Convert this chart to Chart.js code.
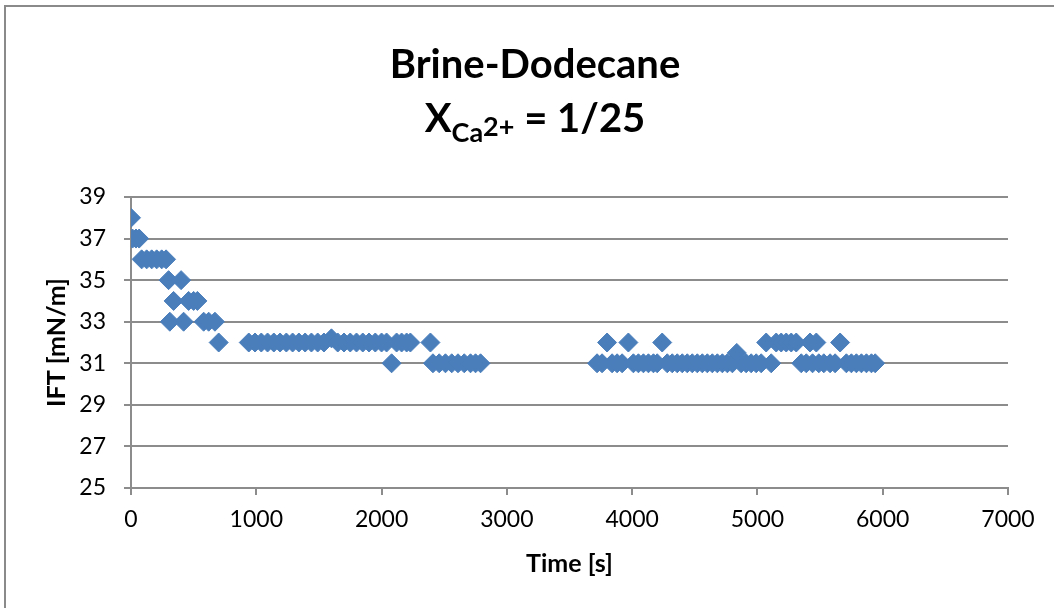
<!DOCTYPE html>
<html>
<head>
<meta charset="utf-8">
<script src="https://cdn.jsdelivr.net/npm/chart.js@4.4.1/dist/chart.umd.min.js"></script>
<style>
  body { margin: 0; background: #fff; }
  #wrap { position: relative; width: 1054px; height: 608px; overflow: hidden; }
  #frame { position: absolute; left: 4px; top: 5px; width: 1100px; height: 700px;
           border-top: 2px solid #8a8a8a; border-left: 2px solid #8a8a8a; }
  #title { position: absolute; left: 0; width: 1070px; top: 36px; text-align: center;
           font-family: Lato, sans-serif; font-weight: bold; font-size: 40px; color: #000; line-height: 54px; }
  #title sub { font-size: 27px; vertical-align: -10px; }
  #title sup { font-size: 27px; vertical-align: 6px; }
  canvas { position: absolute; left: 0; top: 0; }
</style>
</head>
<body>
<div id="wrap">
  <div id="frame"></div>
  <canvas id="iftChart" width="1054" height="608"></canvas>
  <div id="title">Brine-Dodecane<br>X<sub>Ca<sup>2+</sup></sub> = 1/25</div>
</div>
<script>
// Time [s] and IFT [mN/m]
const timeS = [
    0, 12, 40, 65,
    85, 125, 165, 205, 245, 280,
    300, 400, 340, 460, 500, 530,
    310, 420, 580, 620, 670, 700,
    940, 990, 1040, 1090, 1140, 1190, 1240, 1290, 1340, 1390, 1440, 1490, 1540, 1600,
    1650, 1700, 1750, 1800, 1850, 1900, 1950, 2000, 2040, 2080, 2120, 2160, 2200, 2230, 2390,
    2410, 2460, 2510, 2560, 2610, 2660, 2710, 2750, 2790,
    3720, 3760, 3800, 3840, 3880, 3920, 3970, 4010, 4050, 4090, 4130, 4170, 4200, 4240,
    4280, 4320, 4360, 4400, 4440, 4480, 4520, 4560, 4600, 4640, 4680, 4720, 4760, 4800,
    4835, 4870, 4910, 4950, 4990, 5030, 5070, 5110,
    5150, 5190, 5230, 5270, 5310, 5420, 5470,
    5350, 5390, 5440, 5490, 5530, 5580, 5620, 5660, 5710, 5750, 5790, 5830, 5870, 5910, 5940
];
const iftMN = [
    38, 37, 37, 37,
    36, 36, 36, 36, 36, 36,
    35, 35, 34, 34, 34, 34,
    33, 33, 33, 33, 33, 32,
    32, 32, 32, 32, 32, 32, 32, 32, 32, 32, 32, 32, 32, 32.2,
    32, 32, 32, 32, 32, 32, 32, 32, 32, 31, 32, 32, 32, 32, 32,
    31, 31, 31, 31, 31, 31, 31, 31, 31,
    31, 31, 32, 31, 31, 31, 32, 31, 31, 31, 31, 31, 31, 32,
    31, 31, 31, 31, 31, 31, 31, 31, 31, 31, 31, 31, 31, 31,
    31.5, 31, 31, 31, 31, 31, 32, 31,
    32, 32, 32, 32, 32, 32, 32,
    31, 31, 31, 31, 31, 31, 31, 32, 31, 31, 31, 31, 31, 31, 31
];
const yTicks = [25, 27, 29, 31, 33, 35, 37, 39];
const xTicks = [0, 1000, 2000, 3000, 4000, 5000, 6000, 7000];

const gridGrey = '#8c8c8c';
const tickFont = { family: 'Lato, sans-serif', size: 23 };
const titleFont = { family: 'Lato, sans-serif', size: 25, weight: 'bold' };

const ctx = document.getElementById('iftChart').getContext('2d');
new Chart(ctx, {
    type: 'scatter',
    data: {
        datasets: [{
            label: 'IFT',
            data: timeS.map((t, i) => ({ x: t, y: iftMN[i] })),
            pointStyle: 'rectRot',
            pointRadius: 9.5,
            pointBorderWidth: 1,
            backgroundColor: '#4a7ebb',
            borderColor: '#4a7ebb'
        }]
    },
    options: {
        responsive: false,
        animation: false,
        layout: { padding: { top: 197, right: 46, left: 20, bottom: 0 } },
        plugins: { legend: { display: false }, tooltip: { enabled: false } },
        scales: {
            x: {
                type: 'linear',
                min: 0, max: 7000,
                afterBuildTicks: s => { s.ticks = xTicks.map(v => ({ value: v })); },
                afterFit: s => { s.height = 608 - 488; },
                grid: { drawOnChartArea: false, tickLength: 7, color: gridGrey, lineWidth: 2 },
                border: { color: gridGrey, width: 2 },
                ticks: { color: '#000', font: tickFont, padding: 11, maxRotation: 0, callback: v => String(v) },
                title: { display: true, text: 'Time [s]', color: '#000', font: titleFont, padding: { top: 0, bottom: 29 } }
            },
            y: {
                min: 25, max: 39,
                afterBuildTicks: s => { s.ticks = yTicks.map(v => ({ value: v })); },
                afterFit: s => { s.width = 131 - 20; },
                grid: { tickLength: 7, color: gridGrey, lineWidth: 2 },
                border: { color: gridGrey, width: 2 },
                ticks: { color: '#000', font: tickFont, padding: 18, callback: v => String(v) },
                title: { display: true, text: 'IFT [mN/m]', color: '#000', font: titleFont, padding: { top: 22, bottom: 0 } }
            }
        }
    }
});
</script>
</body>
</html>
